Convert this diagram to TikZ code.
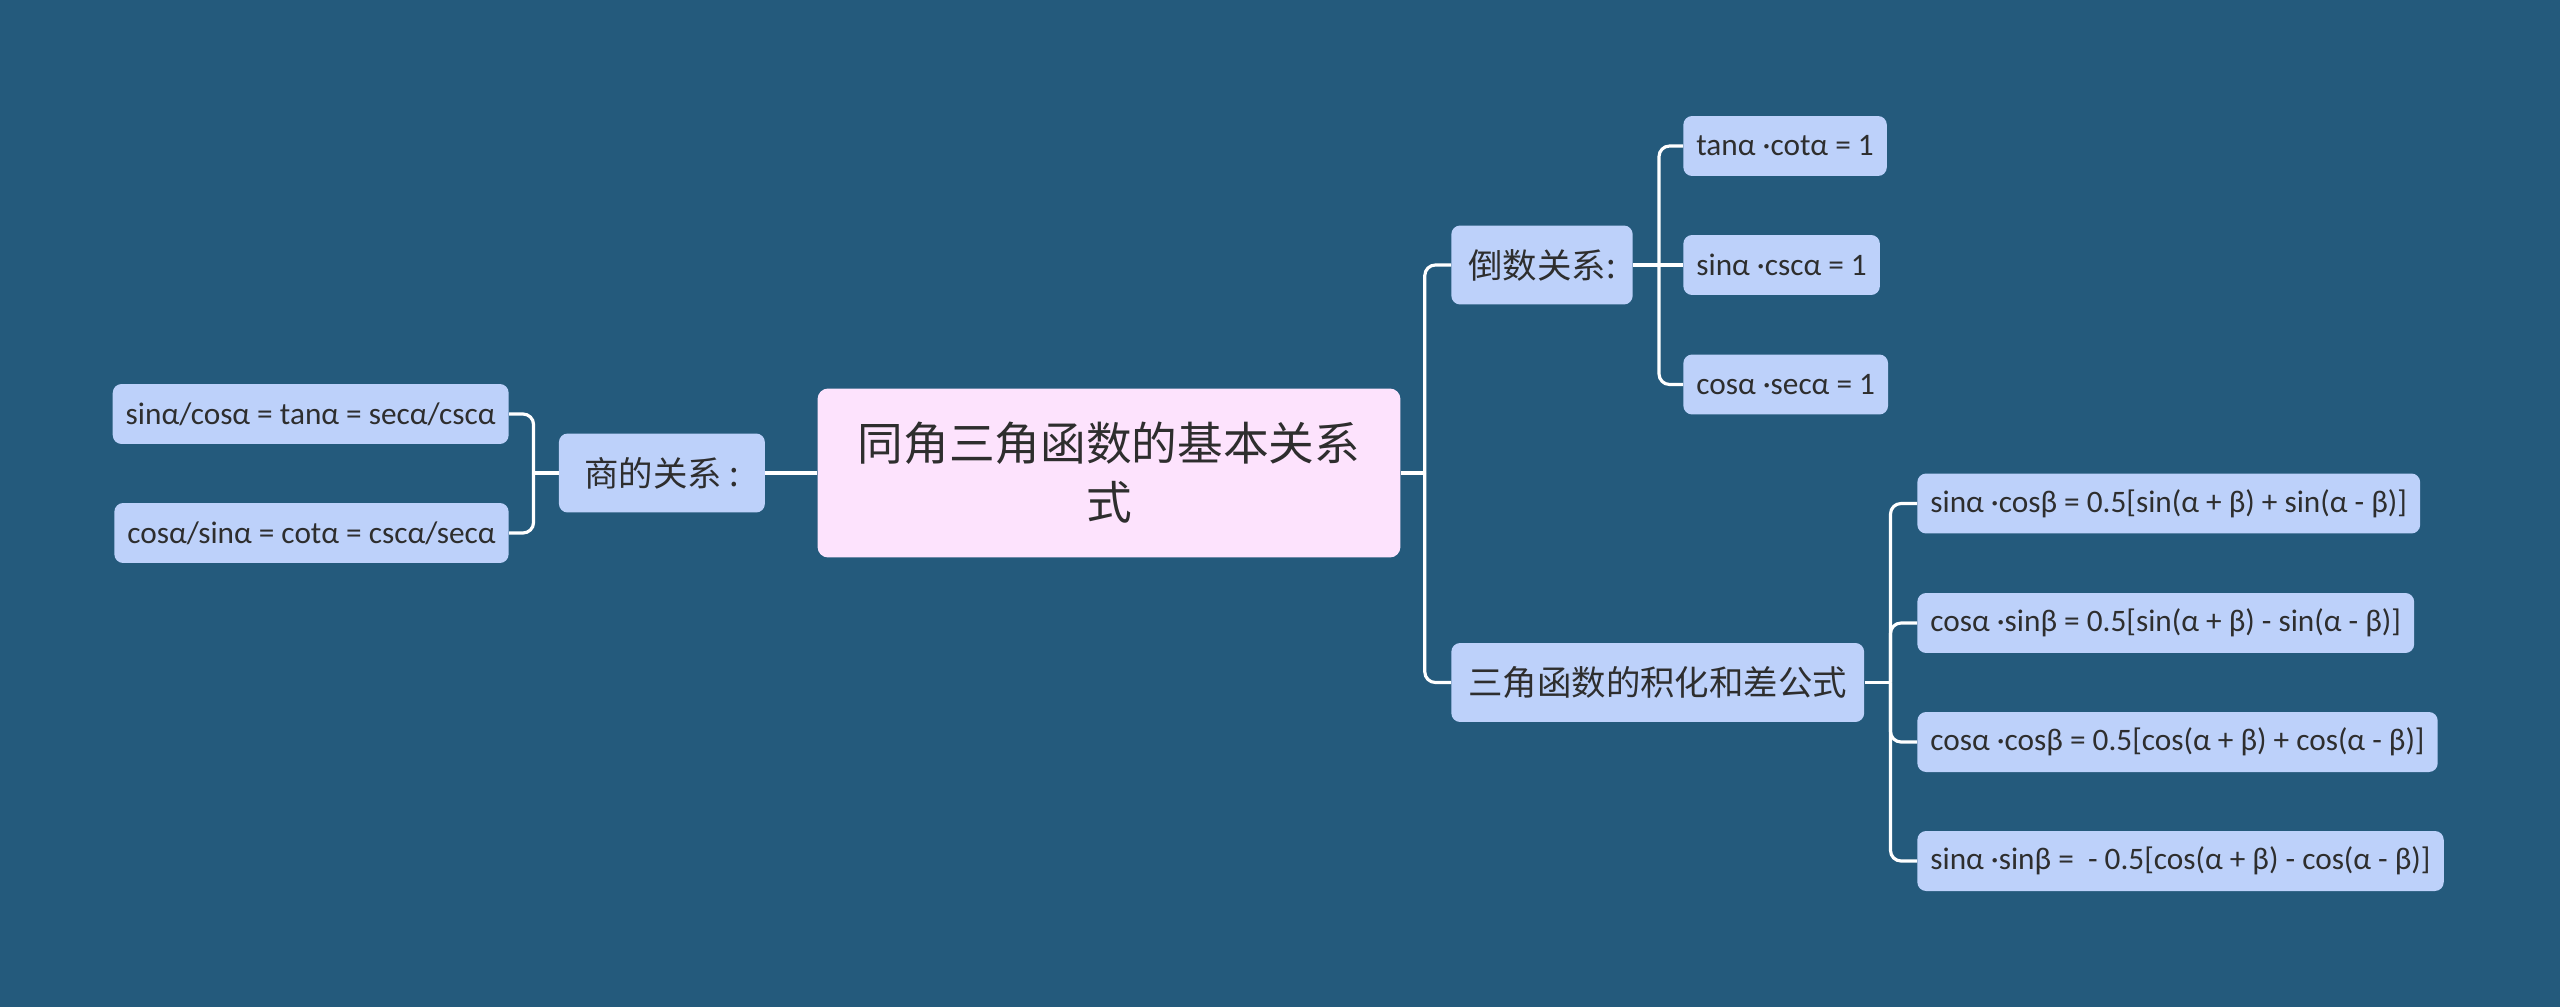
\documentclass[tikz,border=0pt]{standalone}
\usepackage{fontspec}
\setmainfont{Carlito}
\newfontfamily\cjk{Noto Sans CJK SC}
\usetikzlibrary{positioning}
\definecolor{bgblue}{HTML}{245A7C}
\definecolor{leafblue}{HTML}{BDD1FA}
\definecolor{rootpink}{HTML}{FDE3FD}
\definecolor{inkgray}{HTML}{2E2E2E}

\begin{document}
\begin{tikzpicture}[x=0.02cm,y=-0.02cm]
  \tikzstyle{topic}=[rounded corners=6pt,fill=rootpink,text=inkgray,align=center,
    font=\cjk\fontsize{26}{33.5}\selectfont,minimum width=11.66cm,minimum height=3.38cm]
  \tikzstyle{branch}=[rounded corners=5pt,fill=leafblue,text=inkgray,
    font=\cjk\fontsize{19.6}{24}\selectfont,minimum height=1.58cm,inner xsep=0.34cm]
  \tikzstyle{leaf}=[rounded corners=5pt,fill=leafblue,text=inkgray,
    font=\fontsize{17.8}{21}\selectfont,minimum height=1.2cm,inner xsep=0.26cm]
  \tikzstyle{link}=[draw=white,line width=1.8pt,rounded corners=6pt]

  \fill[bgblue] (0,0) rectangle (2560,1007);

  \node[topic] (root) at (1109,473) {同角三角函数的基本关系\\式};

  % left side
  \node[branch,minimum width=4.12cm,left=1.04cm of root] (quot) {商的关系 :};
  \node[leaf,anchor=east] (q1) at (509,414) {sinα/cosα = tanα = secα/cscα};
  \node[leaf,anchor=east] (q2) at (509,533) {cosα/sinα = cotα = cscα/secα};

  % right side
  \node[branch,anchor=west] (recip) at (1451,265) {倒数关系:};
  \node[leaf,anchor=west] (r1) at (1683,146) {tanα ·cotα = 1};
  \node[leaf,anchor=west] (r2) at (1683,265) {sinα ·cscα = 1};
  \node[leaf,anchor=west] (r3) at (1683,384.5) {cosα ·secα = 1};

  \node[branch,anchor=west] (prod) at (1451,682.5) {三角函数的积化和差公式};
  \node[leaf,anchor=west] (p1) at (1917,503.5) {sinα ·cosβ = 0.5[sin(α + β) + sin(α - β)]};
  \node[leaf,anchor=west] (p2) at (1917,623) {cosα ·sinβ = 0.5[sin(α + β) - sin(α - β)]};
  \node[leaf,anchor=west] (p3) at (1917,742) {cosα ·cosβ = 0.5[cos(α + β) + cos(α - β)]};
  \node[leaf,anchor=west] (p4) at (1917,861) {sinα ·sinβ = \ - 0.5[cos(α + β) - cos(α - β)]};

  \coordinate[right=0.48cm of root.east] (jr);
  \coordinate[left=0.5cm of quot.west] (jq);
  \coordinate[right=0.52cm of recip.east] (jd);
  \coordinate[right=0.52cm of prod.east] (jp);

  \draw[link] (root.east) -- (jr);
  \draw[link] (jr) |- (recip.west);
  \draw[link] (jr) |- (prod.west);
  \draw[link] (root.west) -- (quot.east);

  \draw[link] (quot.west) -- (jq);
  \draw[link] (jq) |- (q1.east);
  \draw[link] (jq) |- (q2.east);

  \draw[link] (recip.east) -- (r2.west);
  \draw[link] (jd) |- (r1.west);
  \draw[link] (jd) |- (r3.west);

  \draw[link] (prod.east) -- (jp);
  \foreach \n in {p1,p2,p3,p4}
    \draw[link] (jp) |- (\n.west);

\end{tikzpicture}
\end{document}
